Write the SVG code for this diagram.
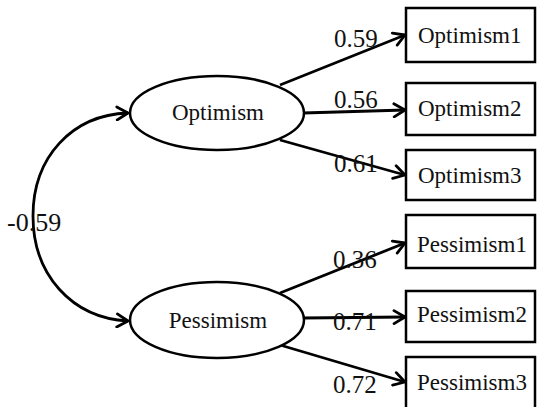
<svg xmlns="http://www.w3.org/2000/svg" width="537" height="407" viewBox="0 0 537 407">
<style>
.n{fill:#fff;stroke:#000;stroke-width:2.5}
.t{font-family:"Liberation Serif","Times New Roman",serif;font-size:23px;fill:#111}
.l{font-family:"Liberation Serif","Times New Roman",serif;font-size:25px;fill:#111}
.c{fill:none;stroke:#000;stroke-width:2.8;marker-end:url(#a)}
</style>
<defs>
<marker id="a" markerUnits="userSpaceOnUse" markerWidth="16" markerHeight="16" viewBox="0 0 16 16" refX="14" refY="8" orient="auto-start-reverse">
<path d="M3,1.5 L14,8 L3,14.5" fill="none" stroke="#000" stroke-width="2.8" stroke-linecap="round" stroke-linejoin="round"/>
</marker>
</defs>
<rect width="537" height="407" fill="#fff"/>
<g id="connectors">
<path class="c" style="marker-start:url(#a)" d="M128,113 C72,115 33,157 33,216 C33,275 72,318 128,321"/>
<line class="c" x1="280" y1="85" x2="405" y2="35"/>
<line class="c" x1="303" y1="113" x2="405" y2="110"/>
<line class="c" x1="280" y1="140" x2="405" y2="175"/>
<line class="c" x1="280" y1="293" x2="405" y2="243"/>
<line class="c" x1="303" y1="318" x2="405" y2="317"/>
<line class="c" x1="280" y1="345" x2="405" y2="382"/>
</g>
<g id="labels">
<text class="l" x="7" y="231" style="font-size:26px">-0.59</text>
<text class="l" x="334" y="47">0.59</text>
<text class="l" x="334" y="108">0.56</text>
<text class="l" x="334" y="172">0.61</text>
<text class="l" x="333" y="268">0.36</text>
<text class="l" x="333" y="330">0.71</text>
<text class="l" x="333" y="393">0.72</text>
</g>
<g id="optimism"><ellipse class="n" cx="217" cy="113" rx="87" ry="37"/><text class="t" x="218" y="120" text-anchor="middle">Optimism</text></g>
<g id="pessimism"><ellipse class="n" cx="217" cy="320" rx="87" ry="38"/><text class="t" x="218" y="328" text-anchor="middle">Pessimism</text></g>
<g id="optimism1"><rect class="n" x="406" y="8" width="129" height="54"/><text class="t" x="418" y="43">Optimism1</text></g>
<g id="optimism2"><rect class="n" x="406" y="83" width="129" height="52"/><text class="t" x="418" y="116">Optimism2</text></g>
<g id="optimism3"><rect class="n" x="406" y="150" width="129" height="50"/><text class="t" x="418" y="183">Optimism3</text></g>
<g id="pessimism1"><rect class="n" x="406" y="215" width="129" height="53"/><text class="t" x="417" y="252">Pessimism1</text></g>
<g id="pessimism2"><rect class="n" x="406" y="291" width="129" height="51"/><text class="t" x="417" y="322">Pessimism2</text></g>
<g id="pessimism3"><rect class="n" x="406" y="357" width="129" height="60"/><text class="t" x="417" y="390">Pessimism3</text></g>
</svg>
